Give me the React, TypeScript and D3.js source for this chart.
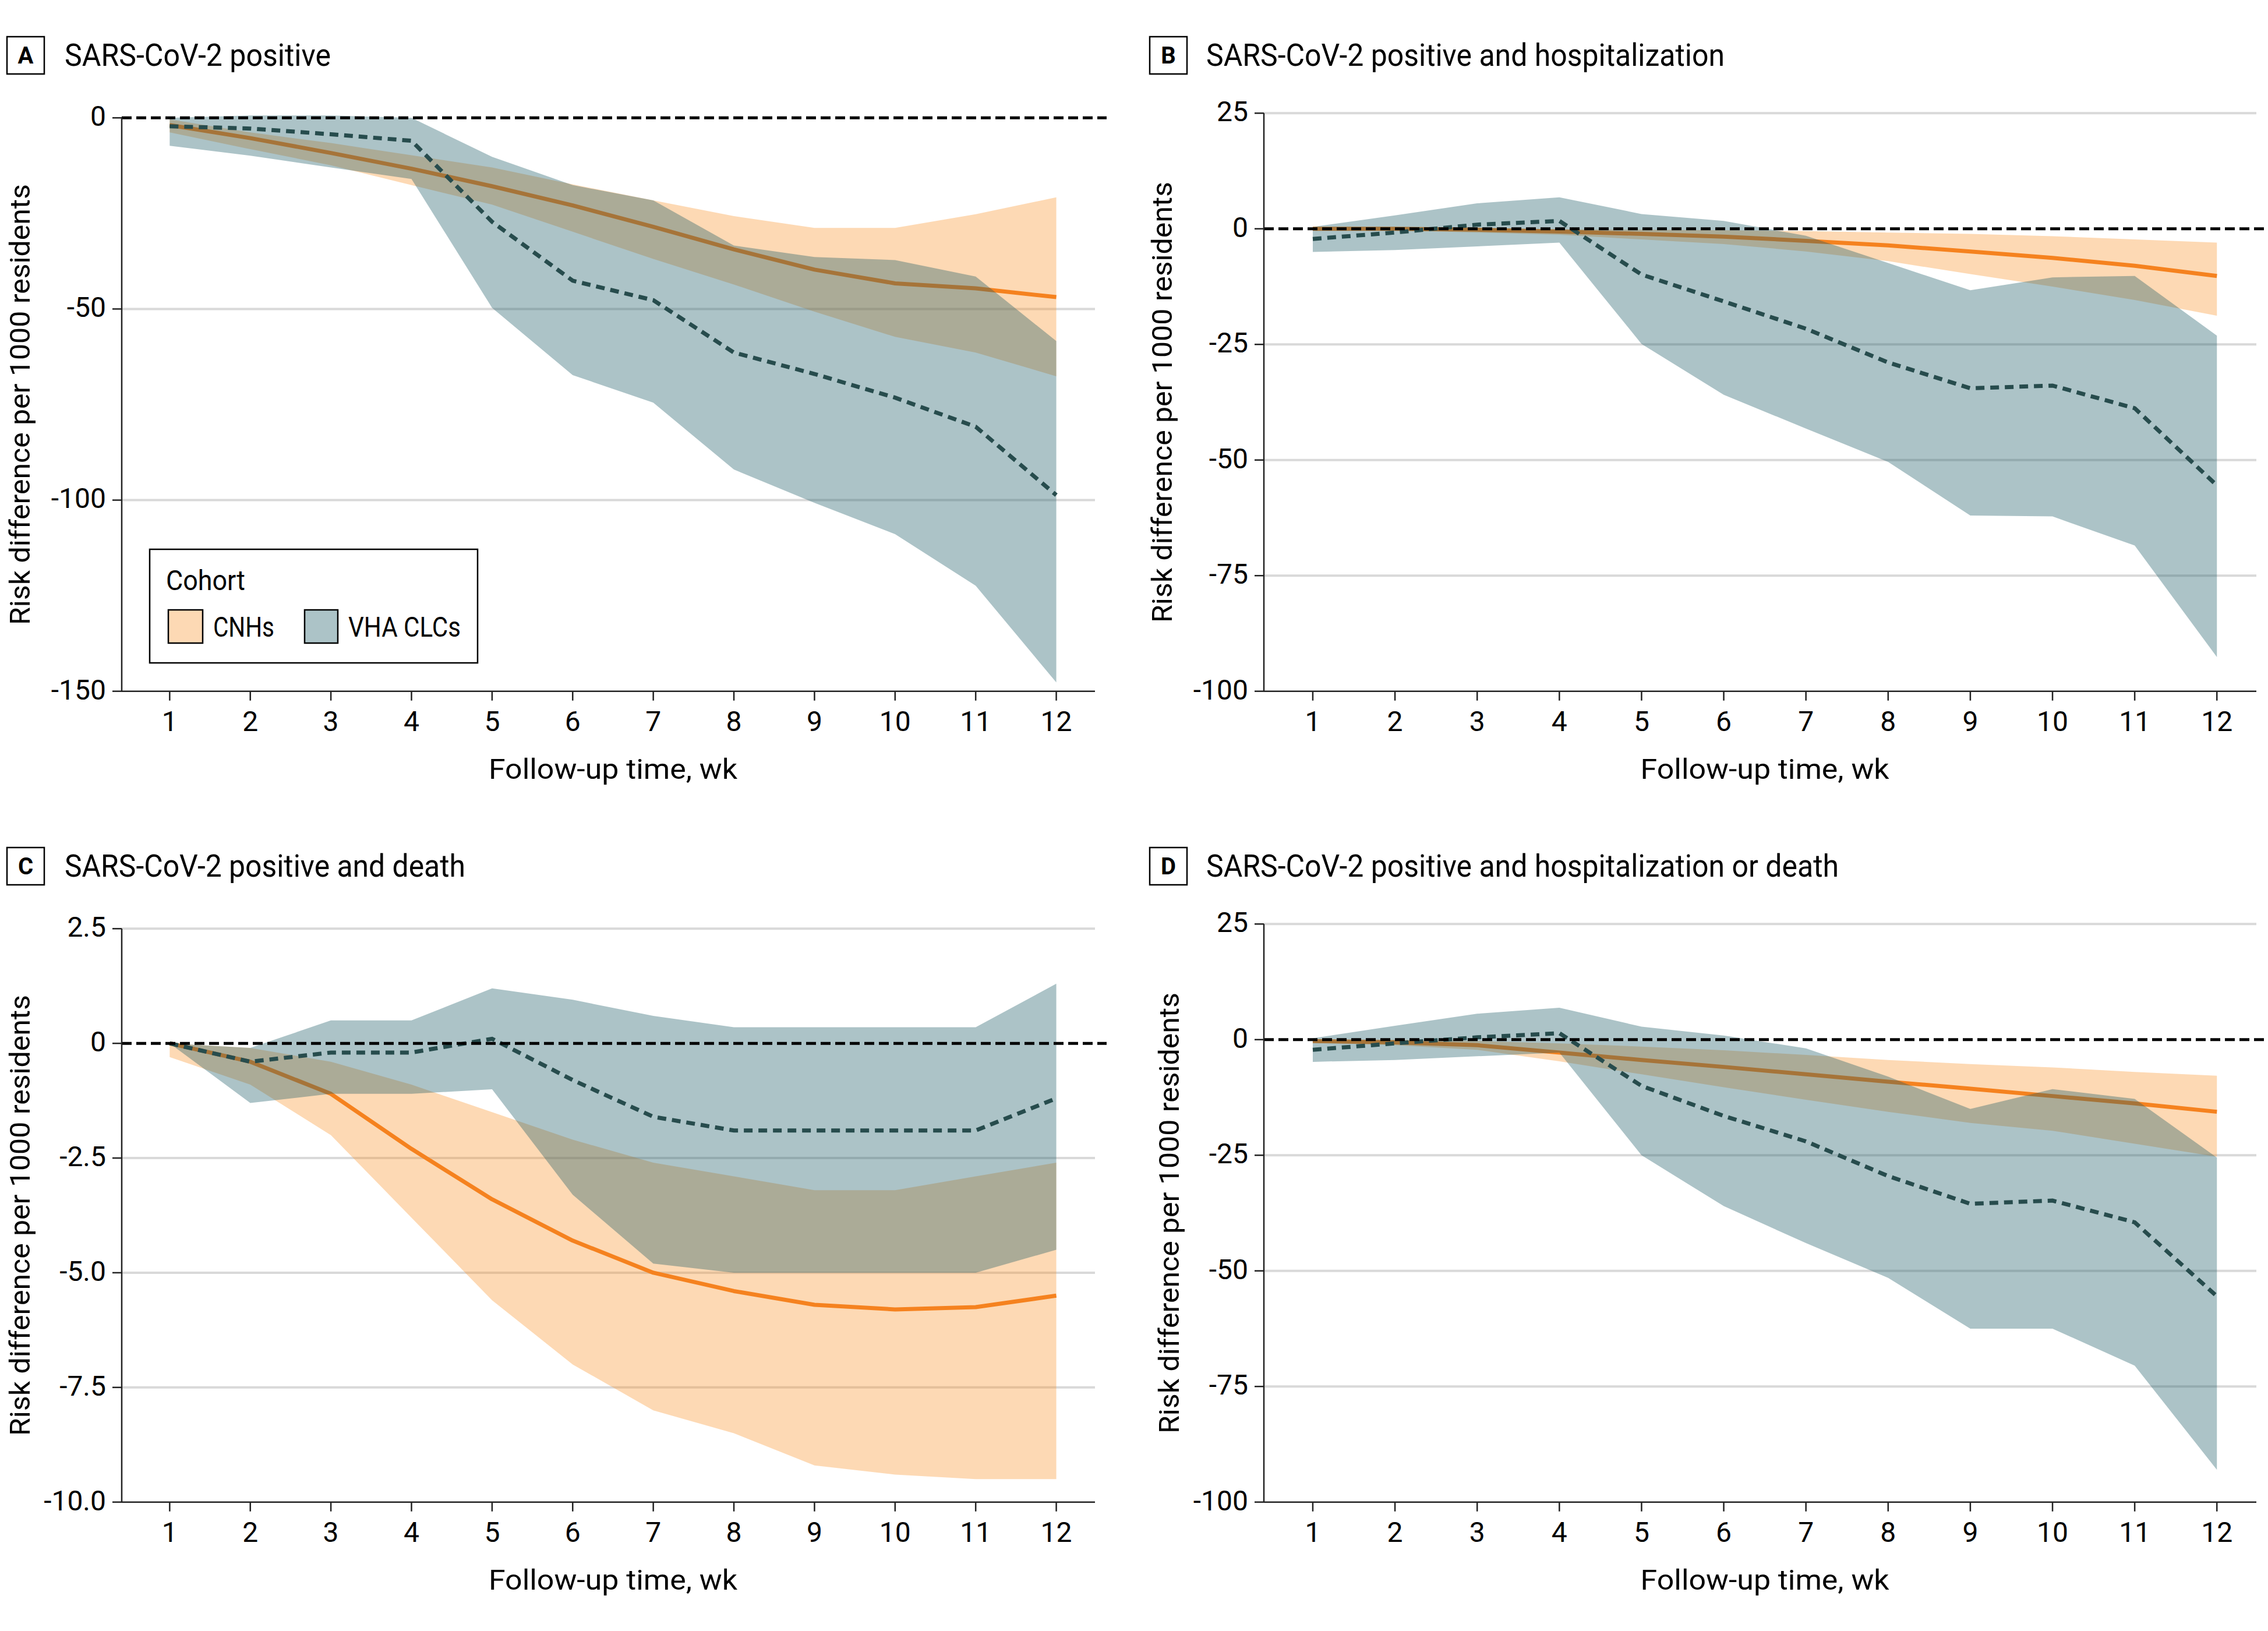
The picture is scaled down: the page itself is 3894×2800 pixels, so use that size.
import React from "react";
import * as d3 from "d3";

// ---------- data ----------
const WEEKS = [1, 2, 3, 4, 5, 6, 7, 8, 9, 10, 11, 12];
const WEEK_LABELS = WEEKS.map(String);

const PANEL_LETTERS = ["A", "B", "C", "D"];
const PANEL_TITLES = [
  "SARS-CoV-2 positive",
  "SARS-CoV-2 positive and hospitalization",
  "SARS-CoV-2 positive and death",
  "SARS-CoV-2 positive and hospitalization or death",
];

const Y_TICKS_A = [0, -50, -100, -150];
const Y_TICKS_B = [25, 0, -25, -50, -75, -100];
const Y_TICKS_C = [2.5, 0, -2.5, -5, -7.5, -10];
const Y_TICKS_D = [25, 0, -25, -50, -75, -100];
const Y_LABELS_A = ["0", "-50", "-100", "-150"];
const Y_LABELS_B = ["25", "0", "-25", "-50", "-75", "-100"];
const Y_LABELS_C = ["2.5", "0", "-2.5", "-5.0", "-7.5", "-10.0"];
const Y_LABELS_D = ["25", "0", "-25", "-50", "-75", "-100"];

const X_TITLE = "Follow-up time, wk";
const Y_TITLE = "Risk difference per 1000 residents";
const LEGEND_TITLE = "Cohort";
const COHORTS = ["CNHs", "VHA CLCs"];

// Panel A
const CNH_A = [-1.9, -5.3, -9.2, -13.3, -17.9, -22.9, -28.5, -34.4, -39.7, -43.3, -44.6, -46.9];
const CNH_A_LO = [-3.8, -8.2, -12.4, -17.6, -22.7, -29.8, -36.9, -43.6, -50.7, -57.3, -61.4, -67.6];
const CNH_A_HI = [-0.4, -3.8, -6.6, -9.8, -13.0, -17.4, -21.6, -25.7, -28.8, -28.8, -25.2, -20.8];
const VHA_A = [-2.2, -2.8, -4.3, -6.0, -27.2, -42.6, -47.7, -61.4, -67.0, -73.2, -80.8, -98.7];
const VHA_A_LO = [-7.3, -9.9, -13.0, -16.0, -49.7, -67.3, -74.5, -92.0, -100.7, -108.9, -122.4, -147.7];
const VHA_A_HI = [0, 0.6, 0.6, 0, -10.2, -17.6, -21.6, -33.4, -36.4, -37.2, -41.5, -58.4];

// Panel B
const CNH_B = [0, 0, -0.2, -0.6, -1.1, -1.7, -2.6, -3.6, -4.9, -6.3, -8.0, -10.2];
const CNH_B_LO = [-0.1, -0.3, -0.8, -1.3, -2.3, -3.3, -4.9, -7.0, -9.8, -12.5, -15.4, -18.8];
const CNH_B_HI = [0.1, 0.2, 0.0, -0.1, -0.2, -0.3, -0.5, -0.8, -1.1, -1.6, -2.3, -3.0];
const VHA_B = [-2.2, -0.8, 0.9, 1.7, -9.9, -15.7, -21.6, -28.9, -34.5, -33.9, -38.8, -55.5];
const VHA_B_LO = [-5.0, -4.6, -3.8, -3.0, -24.9, -35.9, -43.2, -50.4, -62.0, -62.2, -68.5, -92.6];
const VHA_B_HI = [0.4, 2.9, 5.5, 6.8, 3.2, 1.7, -1.5, -7.4, -13.3, -10.5, -10.2, -23.1];

// Panel C
const CNH_C = [0, -0.4, -1.1, -2.3, -3.4, -4.3, -5.0, -5.4, -5.7, -5.8, -5.75, -5.5];
const CNH_C_LO = [-0.3, -0.9, -2.0, -3.8, -5.6, -7.0, -8.0, -8.5, -9.2, -9.4, -9.5, -9.5];
const CNH_C_HI = [0, -0.1, -0.4, -0.9, -1.5, -2.1, -2.6, -2.9, -3.2, -3.2, -2.9, -2.6];
const VHA_C = [0, -0.4, -0.2, -0.2, 0.1, -0.8, -1.6, -1.9, -1.9, -1.9, -1.9, -1.2];
const VHA_C_LO = [0, -1.3, -1.1, -1.1, -1.0, -3.3, -4.8, -5.0, -5.0, -5.0, -5.0, -4.5];
const VHA_C_HI = [0, -0.1, 0.5, 0.5, 1.2, 0.95, 0.6, 0.35, 0.35, 0.35, 0.35, 1.3];

// Panel D
const CNH_D = [-0.3, -0.6, -1.2, -2.8, -4.4, -5.9, -7.5, -9.1, -10.6, -12.2, -13.8, -15.6];
const CNH_D_LO = [-0.6, -1.2, -2.2, -4.7, -7.5, -10.3, -13.0, -15.6, -18.0, -19.7, -22.5, -25.3];
const CNH_D_HI = [0, 0, -0.3, -0.8, -1.5, -2.3, -3.3, -4.4, -5.3, -6.0, -7.0, -7.8];
const VHA_D = [-2.2, -0.8, 0.5, 1.4, -10.0, -16.5, -22.0, -29.5, -35.5, -34.8, -39.5, -55.5];
const VHA_D_LO = [-4.8, -4.4, -3.6, -2.8, -25.0, -36.0, -44.0, -51.5, -62.5, -62.5, -70.5, -93.0];
const VHA_D_HI = [0.3, 3.0, 5.6, 6.9, 2.8, 0.9, -1.9, -8.0, -15.0, -10.7, -12.8, -25.5];

// ---------- styling / layout ----------
const FONT = "Roboto, 'Noto Sans', 'DejaVu Sans', sans-serif";
const ORANGE = "#F5821F";
const ORANGE_FILL = "#F99229";
const ORANGE_FILL_OP = 0.35;
const TEAL_FILL = "#1F5C66";
const TEAL_FILL_OP = 0.37;
const TEAL_LINE = "#274C4D";
const GRID = "#D9D9D9";
const AXIS = "#222";

const COLS = [
  { axisX: 209, rightX: 1880, boxX: 12, titleX: 111 },
  { axisX: 2170, rightX: 3874, boxX: 1974, titleX: 2071 },
];
const ROW_OFFSET = 1392;
const BOX = 64;
const TITLE_WIDTHS = [457, 890, 688, 1086];

const PANELS = [
  { col: 0, row: 0, domain: [-150, 0], top: 202.3, bottom: 1186.7, ticks: Y_TICKS_A, labels: Y_LABELS_A, yTitleShift: 0,
    cnh: CNH_A, cnhLo: CNH_A_LO, cnhHi: CNH_A_HI, vha: VHA_A, vhaLo: VHA_A_LO, vhaHi: VHA_A_HI, legend: true },
  { col: 1, row: 0, domain: [-100, 25], top: 194.3, bottom: 1186.7, ticks: Y_TICKS_B, labels: Y_LABELS_B, yTitleShift: 0,
    cnh: CNH_B, cnhLo: CNH_B_LO, cnhHi: CNH_B_HI, vha: VHA_B, vhaLo: VHA_B_LO, vhaHi: VHA_B_HI, legend: false },
  { col: 0, row: 1, domain: [-10, 2.5], top: 202.3, bottom: 1186.7, ticks: Y_TICKS_C, labels: Y_LABELS_C, yTitleShift: 0,
    cnh: CNH_C, cnhLo: CNH_C_LO, cnhHi: CNH_C_HI, vha: VHA_C, vhaLo: VHA_C_LO, vhaHi: VHA_C_HI, legend: false },
  { col: 1, row: 1, domain: [-100, 25], top: 194.3, bottom: 1186.7, ticks: Y_TICKS_D, labels: Y_LABELS_D, yTitleShift: 12,
    cnh: CNH_D, cnhLo: CNH_D_LO, cnhHi: CNH_D_HI, vha: VHA_D, vhaLo: VHA_D_LO, vhaHi: VHA_D_HI, legend: false },
];

function Panel({ p, idx }: { p: any; idx: number }) {
  const c = COLS[p.col];
  const off = p.row * ROW_OFFSET;
  const x = d3.scaleLinear().domain([0.405, 12.48]).range([c.axisX, c.rightX]);
  const y = d3.scaleLinear().domain(p.domain).range([p.bottom + off, p.top + off]);
  const idxs = d3.range(WEEKS.length);
  const area = (lo: number[], hi: number[]) =>
    d3.area<number>().x((i) => x(WEEKS[i])).y0((i) => y(lo[i])).y1((i) => y(hi[i]))(idxs) || "";
  const line = (v: number[]) =>
    d3.line<number>().x((i) => x(WEEKS[i])).y((i) => y(v[i]))(idxs) || "";
  const yTop = y(p.domain[1]);
  const yBot = y(p.domain[0]);
  const boxY = 63 + off;
  const titleBase = 112.7 + off;
  const tickLabelBase = yBot + 68;
  const xTitleBase = yBot + 150;
  const midX = (x(1) + x(12)) / 2;
  const midY = (yTop + yBot) / 2;

  return (
    <g>
      {/* panel label + title */}
      <rect x={c.boxX} y={boxY} width={BOX} height={BOX} fill="#fff" stroke="#000" strokeWidth={2.5} />
      <text x={c.boxX + BOX / 2} y={boxY + BOX / 2 + 14} textAnchor="middle" fontSize={40} fontWeight="bold" fontFamily={FONT}>
        {PANEL_LETTERS[idx]}
      </text>
      <text x={c.titleX} y={titleBase} fontSize={53} fontFamily={FONT} textLength={TITLE_WIDTHS[idx]}
        lengthAdjust="spacingAndGlyphs">
        {PANEL_TITLES[idx]}
      </text>

      {/* gridlines */}
      {p.ticks.map((t: number) =>
        t === 0 || t === p.domain[0] ? null : (
          <line key={"g" + t} x1={c.axisX} x2={c.rightX} y1={y(t)} y2={y(t)} stroke={GRID} strokeWidth={4} />
        )
      )}

      {/* CNH band + line */}
      <path d={area(p.cnhLo, p.cnhHi)} fill={ORANGE_FILL} fillOpacity={ORANGE_FILL_OP} />
      <path d={line(p.cnh)} fill="none" stroke={ORANGE} strokeWidth={7} strokeLinejoin="round" />

      {/* VHA band + line */}
      <path d={area(p.vhaLo, p.vhaHi)} fill={TEAL_FILL} fillOpacity={TEAL_FILL_OP} />
      <path d={line(p.vha)} fill="none" stroke={TEAL_LINE} strokeWidth={7} strokeDasharray="15 10" />

      {/* zero reference */}
      <line x1={c.axisX} x2={c.rightX + 20} y1={y(0)} y2={y(0)} stroke="#000" strokeWidth={5} strokeDasharray="17 8" />

      {/* y axis */}
      <line x1={c.axisX} x2={c.axisX} y1={yTop} y2={yBot} stroke={AXIS} strokeWidth={2.5} />
      {p.ticks.map((t: number, i: number) => (
        <g key={"yt" + t}>
          <line x1={c.axisX - 16} x2={c.axisX} y1={y(t)} y2={y(t)} stroke={AXIS} strokeWidth={2.5} />
          <text x={c.axisX - 27} y={y(t)} dy="0.29em" textAnchor="end" fontSize={48} fontFamily={FONT}>
            {p.labels[i]}
          </text>
        </g>
      ))}

      {/* x axis */}
      <line x1={c.axisX} x2={c.rightX} y1={yBot} y2={yBot} stroke={AXIS} strokeWidth={2.5} />
      {WEEKS.map((w, i) => (
        <g key={"xt" + w}>
          <line x1={x(w)} x2={x(w)} y1={yBot} y2={yBot + 16} stroke={AXIS} strokeWidth={2.5} />
          <text x={x(w)} y={tickLabelBase} textAnchor="middle" fontSize={48} fontFamily={FONT}>
            {WEEK_LABELS[i]}
          </text>
        </g>
      ))}
      <text x={midX} y={xTitleBase} textAnchor="middle" fontSize={48} fontFamily={FONT} textLength={427}
        lengthAdjust="spacingAndGlyphs">
        {X_TITLE}
      </text>
      <text transform={`translate(${c.axisX - 158 + p.yTitleShift},${midY}) rotate(-90)`} textAnchor="middle" fontSize={48}
        fontFamily={FONT} textLength={757} lengthAdjust="spacingAndGlyphs">
        {Y_TITLE}
      </text>

      {p.legend && (
        <g>
          <rect x={257} y={943} width={563} height={195} fill="#fff" stroke="#000" strokeWidth={2.5} />
          <text x={285} y={1013} fontSize={48} fontFamily={FONT} textLength={136} lengthAdjust="spacingAndGlyphs">
            {LEGEND_TITLE}
          </text>
          <rect x={289} y={1047} width={59} height={57} fill={ORANGE_FILL} fillOpacity={ORANGE_FILL_OP}
            stroke="#000" strokeWidth={2.5} />
          <text x={366} y={1093} fontSize={48} fontFamily={FONT} textLength={105} lengthAdjust="spacingAndGlyphs">
            {COHORTS[0]}
          </text>
          <rect x={523} y={1047} width={57} height={57} fill={TEAL_FILL} fillOpacity={TEAL_FILL_OP}
            stroke="#000" strokeWidth={2.5} />
          <text x={598} y={1093} fontSize={48} fontFamily={FONT} textLength={193} lengthAdjust="spacingAndGlyphs">
            {COHORTS[1]}
          </text>
        </g>
      )}
    </g>
  );
}

export default function App() {
  return (
    <svg width={3894} height={2800} style={{ position: "absolute", left: 0, top: 0, background: "#fff" }}>
      <rect x={0} y={0} width={3894} height={2800} fill="#fff" />
      {PANELS.map((p, i) => (
        <Panel key={i} p={p} idx={i} />
      ))}
    </svg>
  );
}
